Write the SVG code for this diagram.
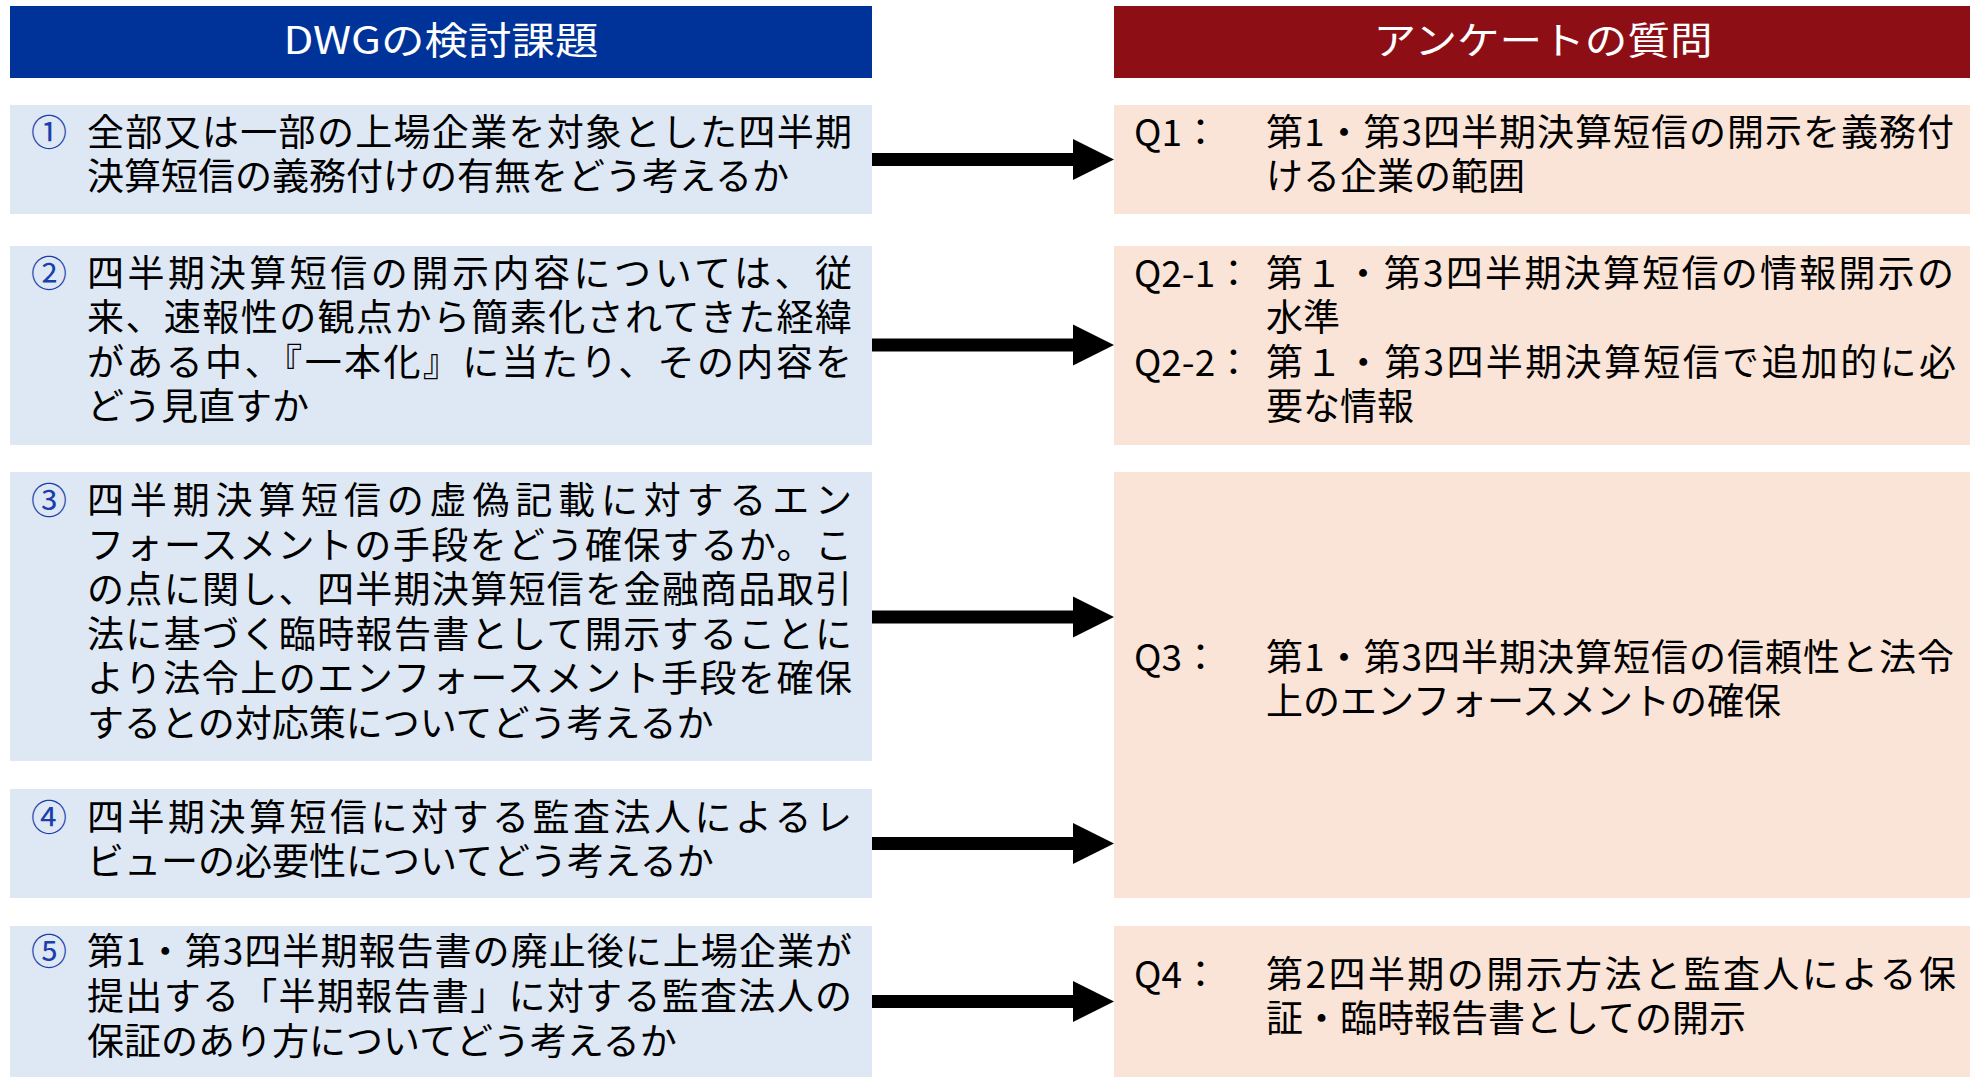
<svg xmlns="http://www.w3.org/2000/svg" width="1970" height="1077" viewBox="0 0 1970 1077">
<style>
  .hdr { font-family: "Noto Sans CJK JP", "Noto Sans", sans-serif; font-size: 38px; fill: #ffffff; text-anchor: middle; }
  .lbox { fill: #DEE8F4; }
  .rbox { fill: #FAE4D8; }
  .t { font-family: "Noto Sans CJK JP", "Noto Sans", sans-serif; font-size: 37px; fill: #000000; }
  .num { font-family: "Noto Sans CJK JP", "Noto Sans", sans-serif; font-size: 36px; fill: #1A3FAA; }
  .q { font-family: "Noto Sans CJK JP", "DejaVu Sans", sans-serif; font-size: 37px; fill: #000000; }
  .arrow { fill: #000000; }
</style>
<defs>
  <path id="arr" d="M0,-6.5 L201,-6.5 L201,-20.5 L242,0 L201,20.5 L201,6.5 L0,6.5 Z"/>
</defs>

<g id="header-left">
  <rect x="10" y="6" width="862" height="72" fill="#003399"/>
  <text class="hdr" x="441" y="54" textLength="315" lengthAdjust="spacingAndGlyphs">DWGの検討課題</text>
</g>
<g id="header-right">
  <rect x="1114" y="6" width="856" height="72" fill="#8E0E16"/>
  <text class="hdr" x="1543" y="54" textLength="339" lengthAdjust="spacingAndGlyphs">アンケートの質問</text>
</g>

<g id="issue1">
  <rect class="lbox" x="10" y="105" width="862" height="109"/>
  <text class="num" x="31" y="146">①</text>
  <text class="t">
    <tspan x="87" y="146" textLength="765" lengthAdjust="spacing">全部又は一部の上場企業を対象とした四半期</tspan>
    <tspan x="87" y="190">決算短信の義務付けの有無をどう考えるか</tspan>
  </text>
</g>
<g id="issue2">
  <rect class="lbox" x="10" y="246" width="862" height="199"/>
  <text class="num" x="31" y="287">②</text>
  <text class="t">
    <tspan x="87" y="287" textLength="765" lengthAdjust="spacing">四半期決算短信の開示内容については、従</tspan>
    <tspan x="87" y="331" textLength="765" lengthAdjust="spacing">来、速報性の観点から簡素化されてきた経緯</tspan>
    <tspan x="87" y="376" textLength="765" lengthAdjust="spacing">がある中、『一本化』に当たり、その内容を</tspan>
    <tspan x="87" y="420">どう見直すか</tspan>
  </text>
</g>
<g id="issue3">
  <rect class="lbox" x="10" y="472" width="862" height="289"/>
  <text class="num" x="31" y="514">③</text>
  <text class="t">
    <tspan x="87" y="514" textLength="765" lengthAdjust="spacing">四半期決算短信の虚偽記載に対するエン</tspan>
    <tspan x="87" y="559" textLength="765" lengthAdjust="spacing">フォースメントの手段をどう確保するか。こ</tspan>
    <tspan x="87" y="603" textLength="765" lengthAdjust="spacing">の点に関し、四半期決算短信を金融商品取引</tspan>
    <tspan x="87" y="648" textLength="765" lengthAdjust="spacing">法に基づく臨時報告書として開示することに</tspan>
    <tspan x="87" y="692" textLength="765" lengthAdjust="spacing">より法令上のエンフォースメント手段を確保</tspan>
    <tspan x="87" y="737">するとの対応策についてどう考えるか</tspan>
  </text>
</g>
<g id="issue4">
  <rect class="lbox" x="10" y="789" width="862" height="109"/>
  <text class="num" x="31" y="831">④</text>
  <text class="t">
    <tspan x="87" y="831" textLength="765" lengthAdjust="spacing">四半期決算短信に対する監査法人によるレ</tspan>
    <tspan x="87" y="875">ビューの必要性についてどう考えるか</tspan>
  </text>
</g>
<g id="issue5">
  <rect class="lbox" x="10" y="926" width="862" height="151"/>
  <text class="num" x="31" y="965">⑤</text>
  <text class="t">
    <tspan x="87" y="965" textLength="765" lengthAdjust="spacing">第1・第3四半期報告書の廃止後に上場企業が</tspan>
    <tspan x="87" y="1010" textLength="765" lengthAdjust="spacing">提出する「半期報告書」に対する監査法人の</tspan>
    <tspan x="87" y="1055">保証のあり方についてどう考えるか</tspan>
  </text>
</g>

<g id="q1">
  <rect class="rbox" x="1114" y="105" width="856" height="109"/>
  <text class="q" x="1134" y="146">Q1：</text>
  <text class="t">
    <tspan x="1266" y="146" textLength="688" lengthAdjust="spacing">第1・第3四半期決算短信の開示を義務付</tspan>
    <tspan x="1266" y="190">ける企業の範囲</tspan>
  </text>
</g>
<g id="q2">
  <rect class="rbox" x="1114" y="246" width="856" height="199"/>
  <text class="q">
    <tspan x="1134" y="287" textLength="118" lengthAdjust="spacingAndGlyphs">Q2-1：</tspan>
    <tspan x="1134" y="376" textLength="118" lengthAdjust="spacingAndGlyphs">Q2-2：</tspan>
  </text>
  <text class="t">
    <tspan x="1266" y="287" textLength="688" lengthAdjust="spacing">第１・第3四半期決算短信の情報開示の</tspan>
    <tspan x="1266" y="331">水準</tspan>
    <tspan x="1266" y="376" textLength="690" lengthAdjust="spacing">第１・第3四半期決算短信で追加的に必</tspan>
    <tspan x="1266" y="420">要な情報</tspan>
  </text>
</g>
<g id="q3">
  <rect class="rbox" x="1114" y="472" width="856" height="426"/>
  <text class="q" x="1134" y="671">Q3：</text>
  <text class="t">
    <tspan x="1266" y="671" textLength="688" lengthAdjust="spacing">第1・第3四半期決算短信の信頼性と法令</tspan>
    <tspan x="1266" y="715">上のエンフォースメントの確保</tspan>
  </text>
</g>
<g id="q4">
  <rect class="rbox" x="1114" y="926" width="856" height="151"/>
  <text class="q" x="1134" y="988">Q4：</text>
  <text class="t">
    <tspan x="1266" y="988" textLength="690" lengthAdjust="spacing">第2四半期の開示方法と監査人による保</tspan>
    <tspan x="1266" y="1032">証・臨時報告書としての開示</tspan>
  </text>
</g>

<g id="connectors">
  <use href="#arr" class="arrow" transform="translate(872,159.5)"/>
  <use href="#arr" class="arrow" transform="translate(872,345)"/>
  <use href="#arr" class="arrow" transform="translate(872,617)"/>
  <use href="#arr" class="arrow" transform="translate(872,843.5)"/>
  <use href="#arr" class="arrow" transform="translate(872,1001.5)"/>
</g>
</svg>
